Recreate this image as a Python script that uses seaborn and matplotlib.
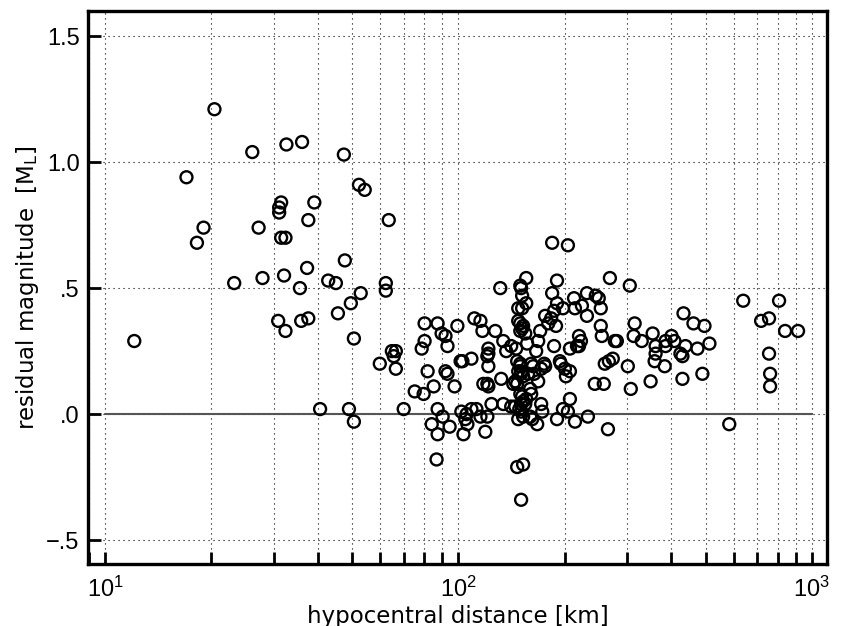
import numpy as np
import pandas as pd
import matplotlib
matplotlib.use("Agg")
import matplotlib.pyplot as plt
import matplotlib.ticker as mticker
import seaborn as sns

# distancia hipocentral [km] y residuo de magnitud
dist_km = [
    12.1, 17.0, 18.2, 19.0, 20.4, 23.2, 26.1, 27.2, 27.9, 30.9,
    31.1, 31.1, 31.5, 31.5, 32.4, 32.1, 32.6, 32.4, 35.6, 36.1,
    35.9, 37.6, 37.3, 37.6, 39.1, 40.6, 42.8, 45.0, 45.6, 47.4,
    47.7, 49.0, 49.6, 50.6, 50.6, 52.3, 52.9, 54.3, 59.9, 62.3,
    62.3, 63.5, 64.8, 66.5, 65.6, 66.5, 70.0,
    # 75-130 km
    75.2, 79.7, 85.1, 97.5, 80.2, 87.3, 99.3, 110.9, 115.4, 116.9,
    127.1, 89.6, 91.9, 93.1, 80.2, 78.7, 81.8, 91.9, 93.1, 101.4,
    102.6, 108.8, 121.5, 121.5, 120.7, 121.5, 132.1, 117.6, 120.7, 121.5,
    133.9, 136.5, 141.0, 145.6, 142.9, 131.3,
    # cerca de 0 y negativos
    87.3, 90.2, 84.0, 87.3, 94.4, 86.7, 101.9, 105.4, 104.6, 106.0,
    103.3, 108.8, 112.4, 115.4, 120.7, 119.1, 124.0, 133.9, 141.0, 144.8,
    # grupo de 150 km
    149.6, 151.4, 152.4, 150.4, 154.5, 155.5, 148.6, 150.4, 147.6, 152.4,
    159.6, 161.6, 167.0, 171.4, 172.6, 160.6, 146.6, 152.4, 150.4, 144.8,
    146.6, 147.6, 150.4, 146.6, 149.6, 149.6, 150.4, 152.4, 157.4, 159.6,
    168.1, 160.6, 162.7, 163.8, 174.8, 175.9, 171.4, 156.4, 168.1, 165.9,
    186.4, 193.6, 194.8, 200.0, 201.4, 206.7,
    # parte alta del grupo central
    184.1, 204.0, 155.5, 149.6, 150.4, 190.0, 268.2, 151.4, 184.1, 155.5,
    230.9, 212.3, 244.6, 249.4, 190.0, 197.5, 213.6, 252.7, 147.6, 151.4,
    175.9, 223.5, 230.9, 186.4, 147.6, 149.6, 152.4, 151.4, 182.9, 188.8,
    179.5, 149.6, 170.3, 154.5,
    # 200-300 km
    219.3, 222.1, 219.3, 216.4, 252.7, 254.4, 206.7, 276.9, 280.6, 243.0,
    257.7, 259.4, 266.4, 273.3, 206.7, 197.5, 204.0, 213.6, 190.0, 232.4,
    264.8,
    # mas de 300 km
    305.3, 315.1, 313.1, 330.0, 301.4, 307.3, 354.3, 361.2, 361.2, 358.9,
    383.2, 349.6, 385.4, 385.4, 400.6, 408.2, 424.6, 430.2, 438.8, 433.2,
    462.2, 496.6, 474.4, 512.9, 430.2, 489.9, 583.6, 639.2, 718.3, 756.3,
    807.4, 839.6, 913.6, 756.3, 761.6, 761.6,
]
residual_ml = [
    0.29, 0.94, 0.68, 0.74, 1.21, 0.52, 1.04, 0.74, 0.54, 0.37,
    0.80, 0.82, 0.84, 0.70, 0.70, 0.55, 1.07, 0.33, 0.50, 1.08,
    0.37, 0.77, 0.58, 0.38, 0.84, 0.02, 0.53, 0.52, 0.40, 1.03,
    0.61, 0.02, 0.44, 0.30, -0.03, 0.91, 0.48, 0.89, 0.20, 0.52,
    0.49, 0.77, 0.25, 0.25, 0.23, 0.18, 0.02,
    0.09, 0.08, 0.11, 0.11, 0.36, 0.36, 0.35, 0.38, 0.37, 0.33,
    0.33, 0.32, 0.31, 0.27, 0.29, 0.26, 0.17, 0.17, 0.16, 0.21,
    0.21, 0.22, 0.26, 0.24, 0.23, 0.19, 0.14, 0.12, 0.12, 0.11,
    0.29, 0.25, 0.27, 0.26, 0.12, 0.50,
    0.02, -0.01, -0.04, -0.08, -0.05, -0.18, 0.01, 0.00, -0.02, -0.04,
    -0.08, 0.02, 0.02, -0.01, -0.01, -0.07, 0.04, 0.04, 0.03, 0.03,
    0.08, 0.07, 0.05, 0.04, 0.04, 0.06, 0.02, 0.01, -0.02, -0.01,
    -0.01, -0.02, -0.04, 0.04, 0.01, 0.08, -0.21, -0.20, -0.34, 0.13,
    0.12, 0.17, 0.17, 0.21, 0.20, 0.19, 0.16, 0.15, 0.16, 0.10,
    0.13, 0.20, 0.19, 0.16, 0.20, 0.19, 0.18, 0.28, 0.29, 0.25,
    0.27, 0.21, 0.20, 0.18, 0.15, 0.17,
    0.68, 0.67, 0.54, 0.51, 0.50, 0.53, 0.54, 0.47, 0.48, 0.44,
    0.48, 0.46, 0.47, 0.46, 0.44, 0.42, 0.42, 0.42, 0.42, 0.42,
    0.39, 0.43, 0.39, 0.41, 0.37, 0.36, 0.35, 0.34, 0.38, 0.35,
    0.36, 0.33, 0.33, 0.32,
    0.31, 0.29, 0.27, 0.27, 0.35, 0.31, 0.26, 0.29, 0.29, 0.12,
    0.12, 0.20, 0.21, 0.22, 0.06, 0.02, 0.01, -0.03, -0.02, -0.01,
    -0.06,
    0.51, 0.36, 0.31, 0.29, 0.19, 0.10, 0.32, 0.27, 0.24, 0.21,
    0.19, 0.13, 0.29, 0.27, 0.31, 0.29, 0.24, 0.23, 0.27, 0.40,
    0.36, 0.35, 0.26, 0.28, 0.14, 0.16, -0.04, 0.45, 0.37, 0.38,
    0.45, 0.33, 0.33, 0.24, 0.16, 0.11,
]

y_ticks = [-0.5, 0.0, 0.5, 1.0, 1.5]
y_tick_labels = ["\u2212.5", ".0", ".5", "1.0", "1.5"]

df = pd.DataFrame({"dist": dist_km, "res": residual_ml})

sns.set_style("ticks")
plt.rcParams["font.family"] = ["Liberation Sans", "DejaVu Sans"]
plt.rcParams.update({
    "text.color": "black", "axes.labelcolor": "black",
    "xtick.color": "black", "ytick.color": "black",
    "xtick.direction": "in", "ytick.direction": "in",
})

fig = plt.figure(figsize=(8.46, 6.26), dpi=100)
ax = fig.add_axes([0.104, 0.099, 0.8735, 0.8835])

ax.set_xscale("log")
ax.set_xlim(8.95, 1103)
ax.set_ylim(-0.595, 1.6)

# rejilla punteada (mayores y menores en x)
ax.set_xticks([10, 100, 1000])
ax.xaxis.set_minor_locator(mticker.LogLocator(base=10, subs=np.arange(2, 10)))
ax.xaxis.set_minor_formatter(mticker.NullFormatter())
ax.set_yticks(y_ticks)
ax.set_yticklabels(y_tick_labels)
ax.grid(True, which="both", axis="x", linestyle=(0, (1, 3.5)), color="black", linewidth=0.8)
ax.grid(True, which="major", axis="y", linestyle=(0, (1, 3.5)), color="black", linewidth=0.8)
ax.set_axisbelow(True)

# linea del cero
ax.plot([10, 1000], [0, 0], color="#555555", linewidth=1.5, zorder=2)

sns.scatterplot(data=df, x="dist", y="res", ax=ax, marker="o", s=74,
                facecolor="none", edgecolor="black", linewidth=1.7, zorder=3,
                legend=False)

for side in ["left", "bottom", "right", "top"]:
    ax.spines[side].set_linewidth(2.4)
    ax.spines[side].set_color("black")

ax.tick_params(axis="both", which="major", direction="in", length=9, width=2,
               labelsize=17, top=False, right=False, pad=6, colors="black")
ax.tick_params(axis="x", which="minor", direction="in", length=9, width=2,
               top=False, colors="black")
ax.tick_params(axis="x", which="major", pad=9)

ax.set_xlabel("hypocentral distance [km]", fontsize=16.5, family="DejaVu Sans", labelpad=2)
ax.set_ylabel("residual magnitude  [M$_\\mathrm{L}$]", fontsize=16.5, family="DejaVu Sans", labelpad=4)

fig.savefig("out.png", dpi=100)
